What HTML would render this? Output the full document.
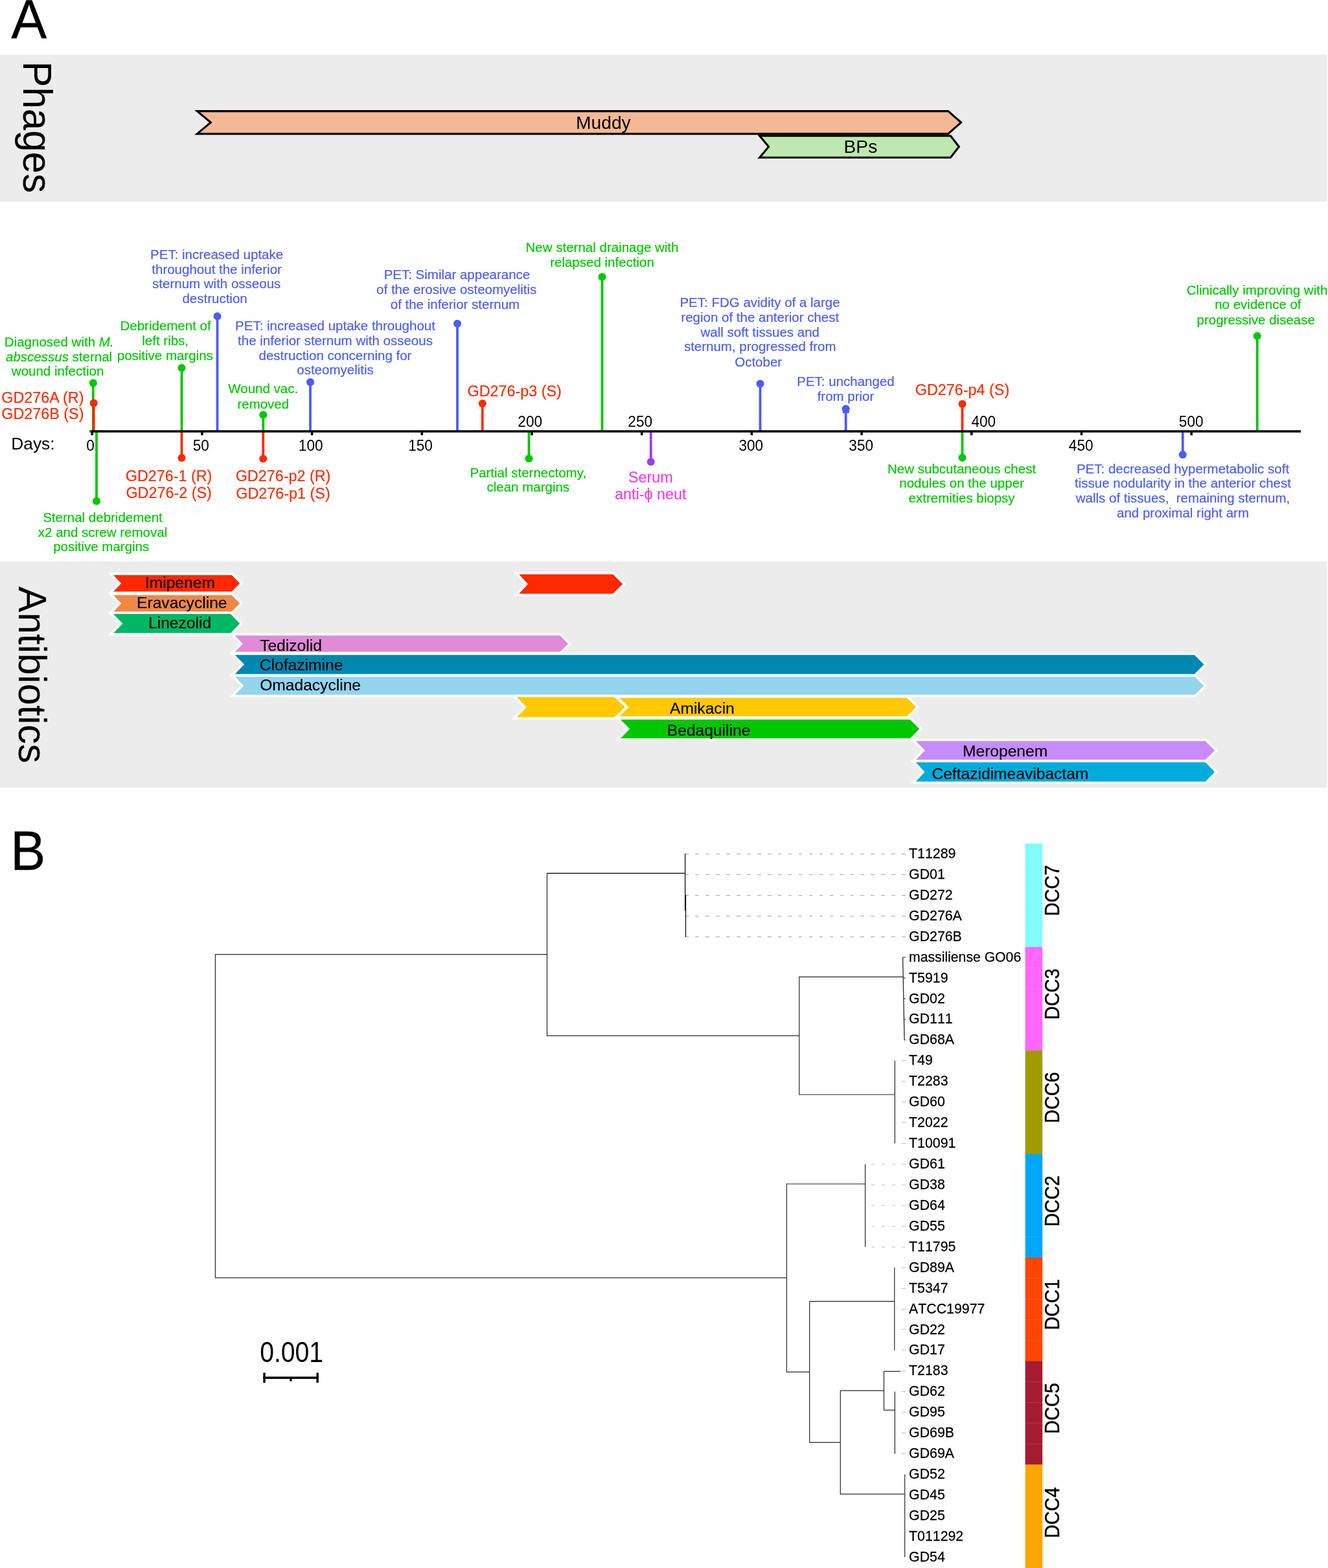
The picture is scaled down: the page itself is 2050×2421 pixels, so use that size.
<!DOCTYPE html>
<html lang="en">
<head>
<meta charset="utf-8">
<title>Phage therapy timeline and phylogeny</title>
<style>
html,body{margin:0;padding:0;background:#fff;}
body{width:2050px;height:2421px;overflow:hidden;}
svg{display:block;}
svg text{font-family:"Liberation Sans", Arial, Helvetica, sans-serif;}
</style>
</head>
<body>
<svg width="2050" height="2421" viewBox="0 0 2050 2421">
<rect width="2050" height="2421" fill="#fff"/>
<rect x="0" y="84.5" width="2048.5" height="226.8" fill="#ececec"/>
<rect x="0" y="867" width="2048.5" height="349.3" fill="#ececec"/>
<text transform="translate(17.3 59.4) scale(0.963 1)" font-size="85.7" stroke="#000" stroke-width="0.3">A</text>
<text transform="translate(16.2 1342.9) scale(0.945 1)" font-size="85.7" stroke="#000" stroke-width="0.3">B</text>
<text transform="translate(35.9 94.4) rotate(90) scale(1 1.045)" font-size="60">Phages</text>
<text transform="translate(28.5 905.6) rotate(90) scale(1 1.03)" font-size="59.9">Antibiotics</text>
<polygon points="304.30,171.60 1463.60,171.60 1483.60,189.10 1463.60,206.60 304.30,206.60 325.30,189.10" fill="#f5b895" stroke="#000" stroke-width="3.1" stroke-linejoin="miter" stroke-miterlimit="10"/>
<polygon points="1172.60,209.70 1467.40,209.70 1480.40,226.50 1467.40,243.30 1172.60,243.30 1186.60,226.50" fill="#bde8b0" stroke="#000" stroke-width="3.1" stroke-linejoin="miter" stroke-miterlimit="10"/>
<text x="931.4" y="198.6" font-size="28.2" text-anchor="middle">Muddy</text>
<text x="1328.4" y="236.2" font-size="28.2" text-anchor="middle">BPs</text>
<line x1="143.8" y1="591.4" x2="143.8" y2="666.0" stroke="#00c800" stroke-width="3.8"/>
<circle cx="143.8" cy="591.4" r="6.05" fill="#00c800"/>
<line x1="144.7" y1="622.4" x2="144.7" y2="666.0" stroke="#ff2a00" stroke-width="3.8"/>
<circle cx="144.7" cy="622.4" r="6.05" fill="#ff2a00"/>
<line x1="149" y1="773.75" x2="149" y2="666.0" stroke="#00c800" stroke-width="3.8"/>
<circle cx="149" cy="773.75" r="6.05" fill="#00c800"/>
<line x1="280.5" y1="568" x2="280.5" y2="666.0" stroke="#00c800" stroke-width="3.8"/>
<circle cx="280.5" cy="568" r="6.05" fill="#00c800"/>
<line x1="280.5" y1="707" x2="280.5" y2="666.0" stroke="#ff2a00" stroke-width="3.8"/>
<circle cx="280.5" cy="707" r="6.05" fill="#ff2a00"/>
<line x1="335.5" y1="488.25" x2="335.5" y2="666.0" stroke="#4b5cf6" stroke-width="3.8"/>
<circle cx="335.5" cy="488.25" r="6.05" fill="#4b5cf6"/>
<line x1="406.25" y1="640.5" x2="406.25" y2="666.0" stroke="#00c800" stroke-width="3.8"/>
<circle cx="406.25" cy="640.5" r="6.05" fill="#00c800"/>
<line x1="406.25" y1="708.25" x2="406.25" y2="666.0" stroke="#ff2a00" stroke-width="3.8"/>
<circle cx="406.25" cy="708.25" r="6.05" fill="#ff2a00"/>
<line x1="479" y1="590" x2="479" y2="666.0" stroke="#4b5cf6" stroke-width="3.8"/>
<circle cx="479" cy="590" r="6.05" fill="#4b5cf6"/>
<line x1="706" y1="499.7" x2="706" y2="666.0" stroke="#4b5cf6" stroke-width="3.8"/>
<circle cx="706" cy="499.7" r="6.05" fill="#4b5cf6"/>
<line x1="744.75" y1="623" x2="744.75" y2="666.0" stroke="#ff2a00" stroke-width="3.8"/>
<circle cx="744.75" cy="623" r="6.05" fill="#ff2a00"/>
<line x1="816.5" y1="708" x2="816.5" y2="666.0" stroke="#00c800" stroke-width="3.8"/>
<circle cx="816.5" cy="708" r="6.05" fill="#00c800"/>
<line x1="929.5" y1="427.5" x2="929.5" y2="666.0" stroke="#00c800" stroke-width="3.8"/>
<circle cx="929.5" cy="427.5" r="6.05" fill="#00c800"/>
<line x1="1004.75" y1="713" x2="1004.75" y2="666.0" stroke="#9a3cf5" stroke-width="3.8"/>
<circle cx="1004.75" cy="713" r="6.05" fill="#9a3cf5"/>
<line x1="1173.5" y1="592.5" x2="1173.5" y2="666.0" stroke="#4b5cf6" stroke-width="3.8"/>
<circle cx="1173.5" cy="592.5" r="6.05" fill="#4b5cf6"/>
<line x1="1305.7" y1="631.2" x2="1305.7" y2="666.0" stroke="#4b5cf6" stroke-width="3.8"/>
<circle cx="1305.7" cy="631.2" r="6.05" fill="#4b5cf6"/>
<line x1="1485.5" y1="623.75" x2="1485.5" y2="666.0" stroke="#ff2a00" stroke-width="3.8"/>
<circle cx="1485.5" cy="623.75" r="6.05" fill="#ff2a00"/>
<line x1="1485.5" y1="706.75" x2="1485.5" y2="666.0" stroke="#00c800" stroke-width="3.8"/>
<circle cx="1485.5" cy="706.75" r="6.05" fill="#00c800"/>
<line x1="1825.75" y1="702" x2="1825.75" y2="666.0" stroke="#4b5cf6" stroke-width="3.8"/>
<circle cx="1825.75" cy="702" r="6.05" fill="#4b5cf6"/>
<line x1="1940.75" y1="518.75" x2="1940.75" y2="666.0" stroke="#00c800" stroke-width="3.8"/>
<circle cx="1940.75" cy="518.75" r="6.05" fill="#00c800"/>
<rect x="1301" y="633.2" width="9.8" height="4.7" fill="#4b5cf6"/>
<rect x="138" y="664.2" width="2.2" height="3.6" fill="#00c800"/>
<line x1="139.8" y1="666.0" x2="2008" y2="666.0" stroke="#000" stroke-width="3.7"/>
<line x1="142.20" y1="666.0" x2="142.20" y2="672" stroke="#000" stroke-width="3.5"/>
<line x1="311.90" y1="666.0" x2="311.90" y2="672" stroke="#000" stroke-width="3.5"/>
<line x1="481.60" y1="666.0" x2="481.60" y2="672" stroke="#000" stroke-width="3.5"/>
<line x1="651.30" y1="666.0" x2="651.30" y2="672" stroke="#000" stroke-width="3.5"/>
<line x1="821.00" y1="666.0" x2="821.00" y2="672" stroke="#000" stroke-width="3.5"/>
<line x1="990.70" y1="666.0" x2="990.70" y2="672" stroke="#000" stroke-width="3.5"/>
<line x1="1160.40" y1="666.0" x2="1160.40" y2="672" stroke="#000" stroke-width="3.5"/>
<line x1="1330.10" y1="666.0" x2="1330.10" y2="672" stroke="#000" stroke-width="3.5"/>
<line x1="1499.80" y1="666.0" x2="1499.80" y2="672" stroke="#000" stroke-width="3.5"/>
<line x1="1669.50" y1="666.0" x2="1669.50" y2="672" stroke="#000" stroke-width="3.5"/>
<line x1="1839.20" y1="666.0" x2="1839.20" y2="672" stroke="#000" stroke-width="3.5"/>
<text transform="translate(139.5 696.0) scale(0.945 1)" font-size="23.9" text-anchor="middle">0</text>
<text transform="translate(310.3 696.0) scale(0.945 1)" font-size="23.9" text-anchor="middle">50</text>
<text transform="translate(479.7 696.0) scale(0.945 1)" font-size="23.9" text-anchor="middle">100</text>
<text transform="translate(649.0 696.0) scale(0.945 1)" font-size="23.9" text-anchor="middle">150</text>
<text transform="translate(818.2 659.3) scale(0.945 1)" font-size="23.9" text-anchor="middle">200</text>
<text transform="translate(988.2 659.3) scale(0.945 1)" font-size="23.9" text-anchor="middle">250</text>
<text transform="translate(1159.3 696.0) scale(0.945 1)" font-size="23.9" text-anchor="middle">300</text>
<text transform="translate(1329.2 696.0) scale(0.945 1)" font-size="23.9" text-anchor="middle">350</text>
<text transform="translate(1518.3 659.3) scale(0.945 1)" font-size="23.9" text-anchor="middle">400</text>
<text transform="translate(1668.7 696.0) scale(0.945 1)" font-size="23.9" text-anchor="middle">450</text>
<text transform="translate(1838.7 659.3) scale(0.945 1)" font-size="23.9" text-anchor="middle">500</text>
<text x="17.3" y="693.9" font-size="26.3">Days:</text>
<text x="91.2" y="535.0" font-size="20.5" fill="#00c800" text-anchor="middle" stroke="#00c800" stroke-width="0.2">Diagnosed with <tspan font-style="italic">M.</tspan></text>
<text x="91.1" y="557.65" font-size="20.5" fill="#00c800" text-anchor="middle" stroke="#00c800" stroke-width="0.2"><tspan font-style="italic">abscessus</tspan> sternal</text>
<text x="89.1" y="580.3" font-size="20.5" fill="#00c800" text-anchor="middle" stroke="#00c800" stroke-width="0.2">wound infection</text>
<text x="65.9" y="621.7" font-size="23.35" fill="#ff2a00" text-anchor="middle" stroke="#ff2a00" stroke-width="0.2">GD276A (R)</text>
<text x="65.9" y="647.2" font-size="23.35" fill="#ff2a00" text-anchor="middle" stroke="#ff2a00" stroke-width="0.2">GD276B (S)</text>
<text x="255.6" y="509.6" font-size="20.5" fill="#00c800" text-anchor="middle" stroke="#00c800" stroke-width="0.2">Debridement of</text>
<text x="255.2" y="532.7" font-size="20.5" fill="#00c800" text-anchor="middle" stroke="#00c800" stroke-width="0.2">left ribs,</text>
<text x="254.8" y="555.8" font-size="20.5" fill="#00c800" text-anchor="middle" stroke="#00c800" stroke-width="0.2">positive margins</text>
<text x="334.6" y="399.6" font-size="20.5" fill="#4b5cf6" text-anchor="middle" stroke="#4b5cf6" stroke-width="0.2">PET: increased uptake</text>
<text x="334.6" y="422.5" font-size="20.5" fill="#4b5cf6" text-anchor="middle" stroke="#4b5cf6" stroke-width="0.2">throughout the inferior</text>
<text x="334.2" y="445.4" font-size="20.5" fill="#4b5cf6" text-anchor="middle" stroke="#4b5cf6" stroke-width="0.2">sternum with osseous</text>
<text x="331.6" y="468.3" font-size="20.5" fill="#4b5cf6" text-anchor="middle" stroke="#4b5cf6" stroke-width="0.2">destruction</text>
<text x="517.5" y="510.0" font-size="20.5" fill="#4b5cf6" text-anchor="middle" stroke="#4b5cf6" stroke-width="0.2">PET: increased uptake throughout</text>
<text x="517.5" y="532.75" font-size="20.5" fill="#4b5cf6" text-anchor="middle" stroke="#4b5cf6" stroke-width="0.2">the inferior sternum with osseous</text>
<text x="517.5" y="555.5" font-size="20.5" fill="#4b5cf6" text-anchor="middle" stroke="#4b5cf6" stroke-width="0.2">destruction concerning for</text>
<text x="517.5" y="578.25" font-size="20.5" fill="#4b5cf6" text-anchor="middle" stroke="#4b5cf6" stroke-width="0.2">osteomyelitis</text>
<text x="406.3" y="607.2" font-size="20.5" fill="#00c800" text-anchor="middle" stroke="#00c800" stroke-width="0.2">Wound vac.</text>
<text x="406.3" y="631.1" font-size="20.5" fill="#00c800" text-anchor="middle" stroke="#00c800" stroke-width="0.2">removed</text>
<text x="260.6" y="742.5" font-size="23.35" fill="#ff2a00" text-anchor="middle" stroke="#ff2a00" stroke-width="0.2">GD276-1 (R)</text>
<text x="260.6" y="769.25" font-size="23.35" fill="#ff2a00" text-anchor="middle" stroke="#ff2a00" stroke-width="0.2">GD276-2 (S)</text>
<text x="437" y="742.5" font-size="23.35" fill="#ff2a00" text-anchor="middle" stroke="#ff2a00" stroke-width="0.2">GD276-p2 (R)</text>
<text x="437" y="769.5" font-size="23.35" fill="#ff2a00" text-anchor="middle" stroke="#ff2a00" stroke-width="0.2">GD276-p1 (S)</text>
<text x="158.5" y="805.8" font-size="20.5" fill="#00c800" text-anchor="middle" stroke="#00c800" stroke-width="0.2">Sternal debridement</text>
<text x="158.5" y="828.5" font-size="20.5" fill="#00c800" text-anchor="middle" stroke="#00c800" stroke-width="0.2">x2 and screw removal</text>
<text x="156.2" y="851.2" font-size="20.5" fill="#00c800" text-anchor="middle" stroke="#00c800" stroke-width="0.2">positive margins</text>
<text x="705.45" y="430.9" font-size="20.5" fill="#4b5cf6" text-anchor="middle" stroke="#4b5cf6" stroke-width="0.2">PET: Similar appearance</text>
<text x="704.75" y="453.8" font-size="20.5" fill="#4b5cf6" text-anchor="middle" stroke="#4b5cf6" stroke-width="0.2">of the erosive osteomyelitis</text>
<text x="702.45" y="476.7" font-size="20.5" fill="#4b5cf6" text-anchor="middle" stroke="#4b5cf6" stroke-width="0.2">of the inferior sternum</text>
<text x="794.2" y="612.2" font-size="23.35" fill="#ff2a00" text-anchor="middle" stroke="#ff2a00" stroke-width="0.2">GD276-p3 (S)</text>
<text x="815.3" y="736.75" font-size="20.5" fill="#00c800" text-anchor="middle" stroke="#00c800" stroke-width="0.2">Partial sternectomy,</text>
<text x="815.3" y="758.85" font-size="20.5" fill="#00c800" text-anchor="middle" stroke="#00c800" stroke-width="0.2">clean margins</text>
<text x="929.5" y="388.8" font-size="20.5" fill="#00c800" text-anchor="middle" stroke="#00c800" stroke-width="0.2">New sternal drainage with</text>
<text x="929.5" y="412.3" font-size="20.5" fill="#00c800" text-anchor="middle" stroke="#00c800" stroke-width="0.2">relapsed infection</text>
<text x="1004.3" y="745.2" font-size="23.35" fill="#f23ce4" text-anchor="middle" stroke="#f23ce4" stroke-width="0.2">Serum</text>
<text x="1004.3" y="770.9" font-size="23.35" fill="#f23ce4" text-anchor="middle" stroke="#f23ce4" stroke-width="0.2">anti-ϕ neut</text>
<text x="1173.05" y="474.4" font-size="20.5" fill="#4b5cf6" text-anchor="middle" stroke="#4b5cf6" stroke-width="0.2">PET: FDG avidity of a large</text>
<text x="1173.25" y="497.0" font-size="20.5" fill="#4b5cf6" text-anchor="middle" stroke="#4b5cf6" stroke-width="0.2">region of the anterior chest</text>
<text x="1173.25" y="519.6" font-size="20.5" fill="#4b5cf6" text-anchor="middle" stroke="#4b5cf6" stroke-width="0.2">wall soft tissues and</text>
<text x="1173.25" y="542.2" font-size="20.5" fill="#4b5cf6" text-anchor="middle" stroke="#4b5cf6" stroke-width="0.2">sternum, progressed from</text>
<text x="1170.65" y="566.0" font-size="20.5" fill="#4b5cf6" text-anchor="middle" stroke="#4b5cf6" stroke-width="0.2">October</text>
<text x="1305.5" y="595.5" font-size="20.5" fill="#4b5cf6" text-anchor="middle" stroke="#4b5cf6" stroke-width="0.2">PET: unchanged</text>
<text x="1305.5" y="618.75" font-size="20.5" fill="#4b5cf6" text-anchor="middle" stroke="#4b5cf6" stroke-width="0.2">from prior</text>
<text x="1485.5" y="610.4" font-size="23.35" fill="#ff2a00" text-anchor="middle" stroke="#ff2a00" stroke-width="0.2">GD276-p4 (S)</text>
<text x="1484.6" y="730.5" font-size="20.5" fill="#00c800" text-anchor="middle" stroke="#00c800" stroke-width="0.2">New subcutaneous chest</text>
<text x="1484.6" y="753.1" font-size="20.5" fill="#00c800" text-anchor="middle" stroke="#00c800" stroke-width="0.2">nodules on the upper</text>
<text x="1484.6" y="775.7" font-size="20.5" fill="#00c800" text-anchor="middle" stroke="#00c800" stroke-width="0.2">extremities biopsy</text>
<text x="1826" y="730.5" font-size="20.5" fill="#4b5cf6" text-anchor="middle" stroke="#4b5cf6" stroke-width="0.2">PET: decreased hypermetabolic soft</text>
<text x="1826" y="753.4" font-size="20.5" fill="#4b5cf6" text-anchor="middle" stroke="#4b5cf6" stroke-width="0.2">tissue nodularity in the anterior chest</text>
<text x="1826" y="776.3" font-size="20.5" fill="#4b5cf6" text-anchor="middle" stroke="#4b5cf6" stroke-width="0.2">walls of tissues,  remaining sternum,</text>
<text x="1826" y="798.7" font-size="20.5" fill="#4b5cf6" text-anchor="middle" stroke="#4b5cf6" stroke-width="0.2">and proximal right arm</text>
<text x="1940.5" y="454.5" font-size="20.5" fill="#00c800" text-anchor="middle" stroke="#00c800" stroke-width="0.2">Clinically improving with</text>
<text x="1941.9" y="477.25" font-size="20.5" fill="#00c800" text-anchor="middle" stroke="#00c800" stroke-width="0.2">no evidence of</text>
<text x="1938.7" y="501.0" font-size="20.5" fill="#00c800" text-anchor="middle" stroke="#00c800" stroke-width="0.2">progressive disease</text>
<polygon points="951.92,1075.70 1400.75,1075.70 1416.79,1091.80 1400.75,1107.90 951.92,1107.90 967.96,1091.80" fill="#ffc800" stroke="#fff" stroke-width="3.6" stroke-linejoin="miter" stroke-miterlimit="10"/>
<polygon points="170.80,886.10 358.35,886.10 372.73,900.70 358.35,915.30 170.80,915.30 184.71,900.70" fill="#ff2800" stroke="#fff" stroke-width="3.6" stroke-linejoin="miter" stroke-miterlimit="10"/>
<polygon points="797.16,884.95 947.00,884.95 963.80,901.75 947.00,918.55 797.16,918.55 812.56,901.75" fill="#ff2800" stroke="#fff" stroke-width="3.6" stroke-linejoin="miter" stroke-miterlimit="10"/>
<polygon points="170.79,917.10 358.35,917.10 372.73,931.65 358.35,946.20 170.79,946.20 184.71,931.65" fill="#f08746" stroke="#fff" stroke-width="3.6" stroke-linejoin="miter" stroke-miterlimit="10"/>
<polygon points="170.76,946.30 356.77,946.30 372.70,962.85 356.77,979.40 170.76,979.40 186.75,962.85" fill="#00b864" stroke="#fff" stroke-width="3.6" stroke-linejoin="miter" stroke-miterlimit="10"/>
<polygon points="358.30,979.50 865.25,979.50 879.54,993.90 865.25,1008.30 358.30,1008.30 372.47,993.90" fill="#e08ad8" stroke="#fff" stroke-width="3.6" stroke-linejoin="miter" stroke-miterlimit="10"/>
<polygon points="358.32,1009.50 1844.75,1009.50 1861.03,1026.00 1844.75,1042.50 358.32,1042.50 374.48,1026.00" fill="#0088b0" stroke="#fff" stroke-width="3.6" stroke-linejoin="miter" stroke-miterlimit="10"/>
<polygon points="358.31,1043.10 1845.24,1043.10 1861.05,1058.85 1845.24,1074.60 358.31,1074.60 373.78,1058.85" fill="#94d4ee" stroke="#fff" stroke-width="3.6" stroke-linejoin="miter" stroke-miterlimit="10"/>
<polygon points="793.18,1074.45 948.70,1074.45 967.66,1091.88 948.70,1109.30 793.18,1109.30 810.46,1091.88" fill="#ffc800" stroke="#fff" stroke-width="3.6" stroke-linejoin="miter" stroke-miterlimit="10"/>
<polygon points="953.76,1109.20 1405.75,1109.20 1421.77,1125.50 1405.75,1141.80 953.76,1141.80 969.50,1125.50" fill="#00c800" stroke="#fff" stroke-width="3.6" stroke-linejoin="miter" stroke-miterlimit="10"/>
<polygon points="1409.44,1142.45 1861.49,1142.45 1877.80,1158.67 1861.49,1174.90 1409.44,1174.90 1425.47,1158.67" fill="#c68cff" stroke="#fff" stroke-width="3.6" stroke-linejoin="miter" stroke-miterlimit="10"/>
<polygon points="1409.63,1175.20 1861.51,1175.20 1877.76,1191.88 1861.51,1208.55 1409.63,1208.55 1425.05,1191.88" fill="#00acdc" stroke="#fff" stroke-width="3.6" stroke-linejoin="miter" stroke-miterlimit="10"/>
<text x="1083.9" y="1102" font-size="24.6" text-anchor="middle" stroke="#000" stroke-width="0.15">Amikacin</text>
<text x="277.9" y="907.9" font-size="24.6" text-anchor="middle" stroke="#000" stroke-width="0.15">Imipenem</text>
<text x="280.8" y="938.5" font-size="24.6" text-anchor="middle" stroke="#000" stroke-width="0.15">Eravacycline</text>
<text x="277.6" y="969.8" font-size="24.6" text-anchor="middle" stroke="#000" stroke-width="0.15">Linezolid</text>
<text x="449" y="1005" font-size="24.6" text-anchor="middle" stroke="#000" stroke-width="0.15">Tedizolid</text>
<text x="465.1" y="1034.5" font-size="24.6" text-anchor="middle" stroke="#000" stroke-width="0.15">Clofazimine</text>
<text x="479.1" y="1066.3" font-size="24.6" text-anchor="middle" stroke="#000" stroke-width="0.15">Omadacycline</text>
<text x="1094.1" y="1135.5" font-size="24.6" text-anchor="middle" stroke="#000" stroke-width="0.15">Bedaquiline</text>
<text x="1551.6" y="1167.5" font-size="24.6" text-anchor="middle" stroke="#000" stroke-width="0.15">Meropenem</text>
<text x="1559.4" y="1202.5" font-size="24.6" text-anchor="middle" stroke="#000" stroke-width="0.15">Ceftazidimeavibactam</text>
<rect x="1582.6" y="1302.40" width="26.60" height="160.23" fill="#7ffcfc"/>
<rect x="1582.6" y="1462.23" width="26.60" height="160.23" fill="#ff66ff"/>
<rect x="1582.6" y="1622.05" width="26.60" height="160.22" fill="#a09b00"/>
<rect x="1582.6" y="1781.88" width="26.60" height="160.23" fill="#00a6ff"/>
<rect x="1582.6" y="1941.70" width="26.60" height="160.23" fill="#ff4500"/>
<rect x="1582.6" y="2101.53" width="26.60" height="160.22" fill="#a51c30"/>
<rect x="1582.6" y="2261.35" width="26.60" height="160.05" fill="#ffa500"/>
<g stroke="#fff" stroke-opacity="0.13" stroke-width="1">
<line x1="1582.6" y1="1334.37" x2="1609.2" y2="1334.37"/>
<line x1="1582.6" y1="1366.33" x2="1609.2" y2="1366.33"/>
<line x1="1582.6" y1="1398.30" x2="1609.2" y2="1398.30"/>
<line x1="1582.6" y1="1430.26" x2="1609.2" y2="1430.26"/>
<line x1="1582.6" y1="1494.19" x2="1609.2" y2="1494.19"/>
<line x1="1582.6" y1="1526.16" x2="1609.2" y2="1526.16"/>
<line x1="1582.6" y1="1909.74" x2="1609.2" y2="1909.74"/>
<line x1="1582.6" y1="1973.66" x2="1609.2" y2="1973.66"/>
<line x1="1582.6" y1="2005.63" x2="1609.2" y2="2005.63"/>
<line x1="1582.6" y1="2037.60" x2="1609.2" y2="2037.60"/>
<line x1="1582.6" y1="2069.56" x2="1609.2" y2="2069.56"/>
<line x1="1582.6" y1="2133.49" x2="1609.2" y2="2133.49"/>
<line x1="1582.6" y1="2165.45" x2="1609.2" y2="2165.45"/>
<line x1="1582.6" y1="2197.42" x2="1609.2" y2="2197.42"/>
<line x1="1582.6" y1="2229.39" x2="1609.2" y2="2229.39"/>
</g>
<text transform="translate(1634.9 1375.06) rotate(-90)" font-size="31.6" stroke="#000" stroke-width="0.45" text-anchor="middle" textLength="79" lengthAdjust="spacingAndGlyphs">DCC7</text>
<text transform="translate(1634.9 1534.89) rotate(-90)" font-size="31.6" stroke="#000" stroke-width="0.45" text-anchor="middle" textLength="79" lengthAdjust="spacingAndGlyphs">DCC3</text>
<text transform="translate(1634.9 1694.71) rotate(-90)" font-size="31.6" stroke="#000" stroke-width="0.45" text-anchor="middle" textLength="79" lengthAdjust="spacingAndGlyphs">DCC6</text>
<text transform="translate(1634.9 1854.54) rotate(-90)" font-size="31.6" stroke="#000" stroke-width="0.45" text-anchor="middle" textLength="79" lengthAdjust="spacingAndGlyphs">DCC2</text>
<text transform="translate(1634.9 2014.36) rotate(-90)" font-size="31.6" stroke="#000" stroke-width="0.45" text-anchor="middle" textLength="79" lengthAdjust="spacingAndGlyphs">DCC1</text>
<text transform="translate(1634.9 2174.59) rotate(-90)" font-size="31.6" stroke="#000" stroke-width="0.45" text-anchor="middle" textLength="79" lengthAdjust="spacingAndGlyphs">DCC5</text>
<text transform="translate(1634.9 2335.61) rotate(-90)" font-size="31.6" stroke="#000" stroke-width="0.45" text-anchor="middle" textLength="79" lengthAdjust="spacingAndGlyphs">DCC4</text>
<g font-size="22.2" style="font-kerning:none" stroke="#000" stroke-width="0.25">
<text transform="translate(1403.1 1324.92) scale(0.96 1)">T11289</text>
<text transform="translate(1403.1 1356.86) scale(0.96 1)">GD01</text>
<text transform="translate(1403.1 1388.80) scale(0.96 1)">GD272</text>
<text transform="translate(1403.1 1420.74) scale(0.96 1)">GD276A</text>
<text transform="translate(1403.1 1452.68) scale(0.96 1)">GD276B</text>
<text transform="translate(1403.1 1484.62) scale(0.955 1)">massiliense GO06</text>
<text transform="translate(1403.1 1516.56) scale(0.96 1)">T5919</text>
<text transform="translate(1403.1 1548.50) scale(0.96 1)">GD02</text>
<text transform="translate(1403.1 1580.44) scale(0.96 1)">GD111</text>
<text transform="translate(1403.1 1612.38) scale(0.96 1)">GD68A</text>
<text transform="translate(1403.1 1644.32) scale(0.96 1)">T49</text>
<text transform="translate(1403.1 1676.26) scale(0.96 1)">T2283</text>
<text transform="translate(1403.1 1708.20) scale(0.96 1)">GD60</text>
<text transform="translate(1403.1 1740.14) scale(0.96 1)">T2022</text>
<text transform="translate(1403.1 1772.08) scale(0.96 1)">T10091</text>
<text transform="translate(1403.1 1804.02) scale(0.96 1)">GD61</text>
<text transform="translate(1403.1 1835.96) scale(0.96 1)">GD38</text>
<text transform="translate(1403.1 1867.90) scale(0.96 1)">GD64</text>
<text transform="translate(1403.1 1899.84) scale(0.96 1)">GD55</text>
<text transform="translate(1403.1 1931.78) scale(0.96 1)">T11795</text>
<text transform="translate(1403.1 1963.72) scale(0.96 1)">GD89A</text>
<text transform="translate(1403.1 1995.66) scale(0.96 1)">T5347</text>
<text transform="translate(1403.1 2027.60) scale(0.96 1)">ATCC19977</text>
<text transform="translate(1403.1 2059.54) scale(0.96 1)">GD22</text>
<text transform="translate(1403.1 2091.48) scale(0.96 1)">GD17</text>
<text transform="translate(1403.1 2123.42) scale(0.96 1)">T2183</text>
<text transform="translate(1403.1 2155.36) scale(0.96 1)">GD62</text>
<text transform="translate(1403.1 2187.30) scale(0.96 1)">GD95</text>
<text transform="translate(1403.1 2219.24) scale(0.96 1)">GD69B</text>
<text transform="translate(1403.1 2251.18) scale(0.96 1)">GD69A</text>
<text transform="translate(1403.1 2283.12) scale(0.96 1)">GD52</text>
<text transform="translate(1403.1 2315.06) scale(0.96 1)">GD45</text>
<text transform="translate(1403.1 2347.00) scale(0.96 1)">GD25</text>
<text transform="translate(1403.1 2378.94) scale(0.96 1)">T011292</text>
<text transform="translate(1403.1 2410.88) scale(0.96 1)">GD54</text>
</g>
<g>
<line x1="1057.2" y1="1318.37" x2="1398.2" y2="1318.37" stroke="#a6a6a6" stroke-width="1" stroke-dasharray="5.65 10.307" shape-rendering="crispEdges"/>
<line x1="1057.2" y1="1350.31" x2="1398.2" y2="1350.31" stroke="#a6a6a6" stroke-width="1" stroke-dasharray="5.65 10.307" shape-rendering="crispEdges"/>
<line x1="1057.2" y1="1382.25" x2="1398.2" y2="1382.25" stroke="#a6a6a6" stroke-width="1" stroke-dasharray="5.65 10.307" shape-rendering="crispEdges"/>
<line x1="1057.2" y1="1414.19" x2="1398.2" y2="1414.19" stroke="#a6a6a6" stroke-width="1" stroke-dasharray="5.65 10.307" shape-rendering="crispEdges"/>
<line x1="1057.2" y1="1446.13" x2="1398.2" y2="1446.13" stroke="#a6a6a6" stroke-width="1" stroke-dasharray="5.65 10.307" shape-rendering="crispEdges"/>
<line x1="1344.7" y1="1797.47" x2="1398.2" y2="1797.47" stroke="#c6c6c6" stroke-width="1" stroke-dasharray="5.3 10.6" shape-rendering="crispEdges"/>
<line x1="1344.7" y1="1829.41" x2="1398.2" y2="1829.41" stroke="#c6c6c6" stroke-width="1" stroke-dasharray="5.3 10.6" shape-rendering="crispEdges"/>
<line x1="1344.7" y1="1861.35" x2="1398.2" y2="1861.35" stroke="#c6c6c6" stroke-width="1" stroke-dasharray="5.3 10.6" shape-rendering="crispEdges"/>
<line x1="1344.7" y1="1893.29" x2="1398.2" y2="1893.29" stroke="#c6c6c6" stroke-width="1" stroke-dasharray="5.3 10.6" shape-rendering="crispEdges"/>
<line x1="1344.7" y1="1925.23" x2="1398.2" y2="1925.23" stroke="#c6c6c6" stroke-width="1" stroke-dasharray="5.3 10.6" shape-rendering="crispEdges"/>
<line x1="1392.4" y1="1637.77" x2="1397.9" y2="1637.77" stroke="#bdbdbd" stroke-width="1" shape-rendering="crispEdges"/>
<line x1="1392.4" y1="1669.71" x2="1397.9" y2="1669.71" stroke="#bdbdbd" stroke-width="1" shape-rendering="crispEdges"/>
<line x1="1392.4" y1="1701.65" x2="1397.9" y2="1701.65" stroke="#bdbdbd" stroke-width="1" shape-rendering="crispEdges"/>
<line x1="1392.4" y1="1733.59" x2="1397.9" y2="1733.59" stroke="#bdbdbd" stroke-width="1" shape-rendering="crispEdges"/>
<line x1="1392.4" y1="1765.53" x2="1397.9" y2="1765.53" stroke="#bdbdbd" stroke-width="1" shape-rendering="crispEdges"/>
<line x1="1392.4" y1="1957.17" x2="1397.9" y2="1957.17" stroke="#bdbdbd" stroke-width="1" shape-rendering="crispEdges"/>
<line x1="1392.4" y1="1989.11" x2="1397.9" y2="1989.11" stroke="#bdbdbd" stroke-width="1" shape-rendering="crispEdges"/>
<line x1="1392.4" y1="2021.05" x2="1397.9" y2="2021.05" stroke="#bdbdbd" stroke-width="1" shape-rendering="crispEdges"/>
<line x1="1392.4" y1="2052.99" x2="1397.9" y2="2052.99" stroke="#bdbdbd" stroke-width="1" shape-rendering="crispEdges"/>
<line x1="1392.4" y1="2084.93" x2="1397.9" y2="2084.93" stroke="#bdbdbd" stroke-width="1" shape-rendering="crispEdges"/>
<line x1="1392.4" y1="2116.87" x2="1397.9" y2="2116.87" stroke="#bdbdbd" stroke-width="1" shape-rendering="crispEdges"/>
<line x1="1392.4" y1="2148.81" x2="1397.9" y2="2148.81" stroke="#bdbdbd" stroke-width="1" shape-rendering="crispEdges"/>
<line x1="1392.4" y1="2180.75" x2="1397.9" y2="2180.75" stroke="#bdbdbd" stroke-width="1" shape-rendering="crispEdges"/>
<line x1="1392.4" y1="2212.69" x2="1397.9" y2="2212.69" stroke="#bdbdbd" stroke-width="1" shape-rendering="crispEdges"/>
<line x1="1392.4" y1="2244.63" x2="1397.9" y2="2244.63" stroke="#bdbdbd" stroke-width="1" shape-rendering="crispEdges"/>
<line x1="1393.6" y1="1478.07" x2="1398" y2="1478.07" stroke="#262626" stroke-width="1"/>
<line x1="1394.1999999999998" y1="1510.01" x2="1398" y2="1510.01" stroke="#262626" stroke-width="1"/>
<line x1="1394.8" y1="1541.95" x2="1398" y2="1541.95" stroke="#262626" stroke-width="1"/>
<line x1="1395.3999999999999" y1="1573.89" x2="1398" y2="1573.89" stroke="#262626" stroke-width="1"/>
<line x1="1396.0" y1="1605.83" x2="1398" y2="1605.83" stroke="#262626" stroke-width="1"/>
<line x1="332.4" y1="1473.2" x2="332.4" y2="1973.3" stroke="#262626" stroke-width="1.2"/>
<line x1="332.4" y1="1473.7" x2="844.5" y2="1473.7" stroke="#262626" stroke-width="1.2"/>
<line x1="332.4" y1="1972.8" x2="1214.3" y2="1972.8" stroke="#262626" stroke-width="1.2"/>
<line x1="844.5" y1="1348" x2="844.5" y2="1599.7" stroke="#262626" stroke-width="1.2"/>
<line x1="844.5" y1="1348.4" x2="1057.7" y2="1348.4" stroke="#000" stroke-width="1.2"/>
<line x1="844.5" y1="1599.2" x2="1233.8" y2="1599.2" stroke="#262626" stroke-width="1.2"/>
<line x1="1233.8" y1="1507.8" x2="1233.8" y2="1690.5" stroke="#262626" stroke-width="1.2"/>
<line x1="1233.8" y1="1508.3" x2="1394.6" y2="1508.3" stroke="#262626" stroke-width="1.2"/>
<line x1="1233.8" y1="1690" x2="1381.3" y2="1690" stroke="#262626" stroke-width="1.2"/>
<line x1="1214.3" y1="1827.5" x2="1214.3" y2="2118.8" stroke="#262626" stroke-width="1.2"/>
<line x1="1214.3" y1="1828" x2="1335.6" y2="1828" stroke="#262626" stroke-width="1.2"/>
<line x1="1214.3" y1="2118.3" x2="1249.7" y2="2118.3" stroke="#262626" stroke-width="1.2"/>
<line x1="1249.7" y1="2009" x2="1249.7" y2="2227.6" stroke="#262626" stroke-width="1.2"/>
<line x1="1249.7" y1="2009.4" x2="1380.7" y2="2009.4" stroke="#262626" stroke-width="1.2"/>
<line x1="1249.7" y1="2227.1" x2="1297.3" y2="2227.1" stroke="#262626" stroke-width="1.2"/>
<line x1="1297.3" y1="2146.7" x2="1297.3" y2="2307.4" stroke="#262626" stroke-width="1.2"/>
<line x1="1297.3" y1="2147.2" x2="1364.5" y2="2147.2" stroke="#262626" stroke-width="1.2"/>
<line x1="1297.3" y1="2306.9" x2="1396.7" y2="2306.9" stroke="#262626" stroke-width="1.2"/>
<line x1="1364.5" y1="2117" x2="1364.5" y2="2177.7" stroke="#262626" stroke-width="1.2"/>
<line x1="1364.5" y1="2117.4" x2="1390.3" y2="2117.4" stroke="#262626" stroke-width="1.2"/>
<line x1="1364.5" y1="2177.2" x2="1381.2" y2="2177.2" stroke="#262626" stroke-width="1.2"/>
<line x1="1057.6" y1="1317.9699999999998" x2="1057.6" y2="1406" stroke="#000" stroke-width="1.2"/>
<line x1="1058.5" y1="1381.85" x2="1058.5" y2="1446.5300000000002" stroke="#000" stroke-width="1.2"/>
<line x1="1393.6" y1="1478.07" x2="1396.1" y2="1605.83" stroke="#262626" stroke-width="1.3"/>
<line x1="1381.4" y1="1637.77" x2="1381.4" y2="1765.53" stroke="#262626" stroke-width="1.2"/>
<line x1="1335.6" y1="1797.47" x2="1335.6" y2="1925.23" stroke="#262626" stroke-width="1.2"/>
<line x1="1380.8" y1="1957.17" x2="1380.8" y2="2084.93" stroke="#262626" stroke-width="1.2"/>
<line x1="1381.4" y1="2148.81" x2="1381.4" y2="2244.63" stroke="#262626" stroke-width="1.2"/>
<line x1="1396.7" y1="2276.57" x2="1396.7" y2="2404.33" stroke="#262626" stroke-width="1.2"/>
</g>
<text x="401.2" y="2103.3" font-size="44" textLength="97.8" lengthAdjust="spacingAndGlyphs">0.001</text>
<line x1="406.3" y1="2127.2" x2="491.8" y2="2127.2" stroke="#000" stroke-width="3.4"/>
<line x1="408" y1="2119.5" x2="408" y2="2135.1" stroke="#000" stroke-width="3.4"/>
<line x1="490.1" y1="2119.5" x2="490.1" y2="2135.1" stroke="#000" stroke-width="3.4"/>
<line x1="448.9" y1="2127.2" x2="448.9" y2="2132.8" stroke="#000" stroke-width="3.4"/>
</svg>
</body>
</html>
